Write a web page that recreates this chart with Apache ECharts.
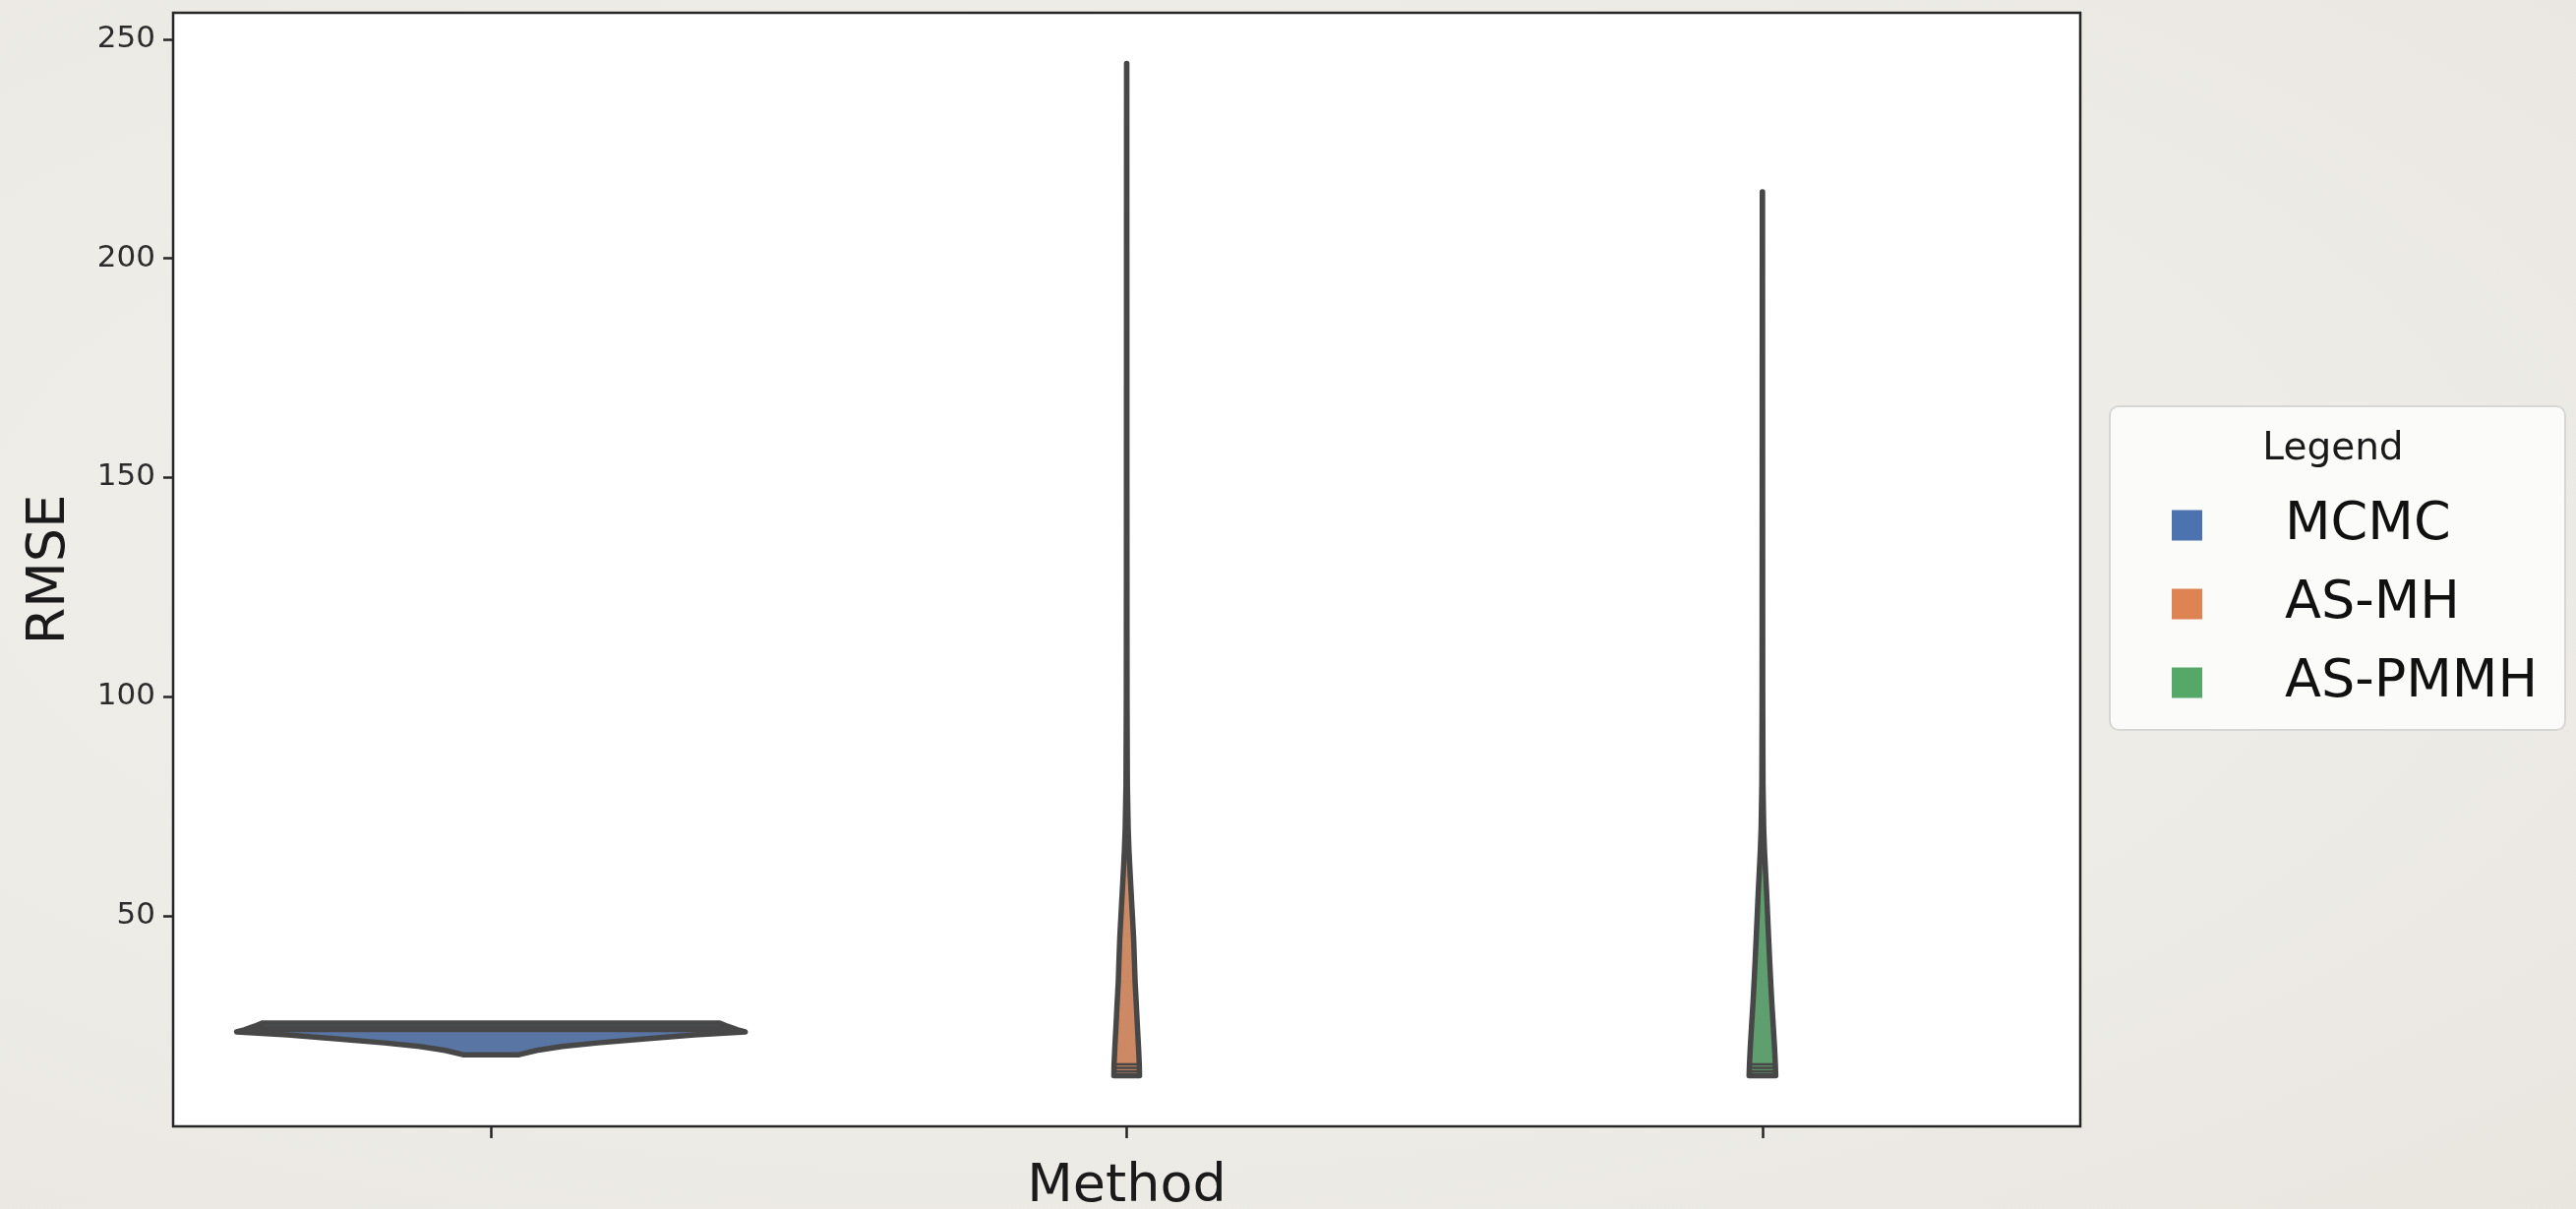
<!DOCTYPE html>
<html>
<head>
<meta charset="utf-8">
<title>RMSE by method</title>
<script src="https://cdn.jsdelivr.net/npm/echarts@6/dist/echarts.min.js"></script>
<style>
  html, body { margin: 0; padding: 0; }
  body {
    width: 2619px; height: 1229px; overflow: hidden;
    background: radial-gradient(ellipse at 40% 45%, #f1efeb 0%, #eeece7 55%, #e9e6e0 100%);
  }
  #chart { width: 2619px; height: 1229px; }
</style>
</head>
<body>
<div id="chart"></div>
<script>
// Methods on the x axis
const methods = ['MCMC', 'AS-MH', 'AS-PMMH'];

// Kernel density profiles: RMSE levels and relative density (1 = widest violin)
const mcmcLevels  = [18.3, 19.3, 20.2, 21.0, 22.0, 22.8, 23.5, 24.0, 24.8, 25.5];
const mcmcDensity = [0.11, 0.18, 0.28, 0.42, 0.62, 0.80, 1.00, 0.97, 0.93, 0.90];
const mcmcSticks  = [23.7, 24.2, 24.7];

const asmhLevels  = [13.5, 16, 20, 25, 30, 35, 40, 45, 50, 55, 60, 65, 70, 80, 100, 150, 200, 244.5];
const asmhDensity = [0.0504, 0.0496, 0.0465, 0.0419, 0.0376, 0.0330, 0.0302, 0.0271, 0.0225, 0.0178,
                     0.0132, 0.0089, 0.0058, 0.0027, 0.0014, 0.0008, 0.0006, 0.0004];
const asmhSticks  = [14.5, 15.3, 16.1];

const aspmmhLevels  = [13.5, 16, 20, 25, 30, 35, 40, 45, 50, 55, 60, 65, 70, 80, 100, 150, 215.2];
const aspmmhDensity = [0.0523, 0.0510, 0.0477, 0.0426, 0.0372, 0.0326, 0.0283, 0.0244, 0.0205, 0.0167,
                       0.0124, 0.0081, 0.0050, 0.0023, 0.0012, 0.0007, 0.0004];
const aspmmhSticks  = [14.5, 15.3, 16.1];

// Y tick values
const yTicks = [50, 100, 150, 200, 250];

// Palette: legend swatches and (desaturated) violin bodies
const swatchColors = ['#4c72b0', '#dd8452', '#55a868'];
const bodyColors   = ['#5875a3', '#cc8963', '#5f9e6e'];
const edgeColor = '#474747';
const FONT = 'DejaVu Sans';

// Axis limits with a 5% margin around the data range
const allLevels = mcmcLevels.concat(asmhLevels, aspmmhLevels);
const lo = Math.min.apply(null, allLevels);
const hi = Math.max.apply(null, allLevels);
const pad = 0.05 * (hi - lo);

function densityAt(levels, density, v) {
  for (let i = 0; i < levels.length - 1; i++) {
    if (v >= levels[i] && v <= levels[i + 1]) {
      const t = (v - levels[i]) / (levels[i + 1] - levels[i]);
      return density[i] + t * (density[i + 1] - density[i]);
    }
  }
  return 0;
}

function violinSeries(idx, levels, density, sticks) {
  return {
    type: 'custom',
    name: methods[idx],
    coordinateSystem: 'cartesian2d',
    itemStyle: { color: swatchColors[idx], borderWidth: 0 },
    data: [[idx, levels[0]]],
    encode: { x: 0, y: 1 },
    renderItem: function (params, api) {
      const band = api.size([1, 0])[0];
      const halfW = d => d * 0.4 * band;
      const right = levels.map((v, i) => {
        const p = api.coord([idx, v]);
        return [p[0] + halfW(density[i]), p[1]];
      });
      const left = levels.map((v, i) => {
        const p = api.coord([idx, v]);
        return [p[0] - halfW(density[i]), p[1]];
      }).reverse();
      const children = [{
        type: 'polygon',
        shape: { points: right.concat(left) },
        style: { fill: bodyColors[idx], stroke: edgeColor, lineWidth: 5.5, lineJoin: 'round' }
      }];
      // one stick per observation, spanning the violin width at that value
      sticks.forEach(s => {
        const p = api.coord([idx, s]);
        const w = halfW(densityAt(levels, density, s));
        children.push({
          type: 'line',
          shape: { x1: p[0] - w, y1: p[1], x2: p[0] + w, y2: p[1] },
          style: { stroke: edgeColor, lineWidth: 2.5 }
        });
      });
      return { type: 'group', children: children };
    }
  };
}

const chart = echarts.init(document.getElementById('chart'), null, { renderer: 'canvas' });

chart.setOption({
  backgroundColor: 'transparent',
  animation: false,
  textStyle: { fontFamily: FONT },
  grid: {
    left: 176, top: 13, right: 504, bottom: 84,
    containLabel: false, outerBoundsMode: 'none',
    show: true, backgroundColor: '#ffffff', borderColor: '#262626', borderWidth: 2.5
  },
  xAxis: {
    type: 'category',
    data: methods,
    boundaryGap: true,
    name: 'Method',
    nameLocation: 'middle',
    nameGap: 35,
    nameTextStyle: { fontFamily: FONT, fontSize: 54, color: '#1a1a1a' },
    axisLine: { show: false },
    axisTick: { show: true, alignWithLabel: true, length: 12, lineStyle: { color: '#262626', width: 2.5 } },
    axisLabel: { show: false },
    splitLine: { show: false }
  },
  yAxis: {
    type: 'value',
    min: lo - pad,
    max: hi + pad,
    name: 'RMSE',
    nameLocation: 'middle',
    nameGap: 98,
    nameTextStyle: { fontFamily: FONT, fontSize: 54, color: '#1a1a1a' },
    axisLine: { show: false },
    axisTick: { show: true, length: 10, customValues: yTicks, lineStyle: { color: '#262626', width: 2.5 } },
    axisLabel: { show: true, margin: 18, customValues: yTicks, fontFamily: FONT, fontSize: 31, color: '#2b2b2b' },
    splitLine: { show: false }
  },
  legend: {
    data: methods,
    orient: 'vertical',
    left: 2208,
    top: 507,
    padding: 0,
    itemGap: 26,
    itemWidth: 31,
    itemHeight: 31,
    icon: 'rect',
    selectedMode: false,
    z: 10,
    textStyle: { fontFamily: FONT, fontSize: 54, lineHeight: 54, color: '#111111', padding: [0, 0, 0, 79] }
  },
  graphic: [
    {
      type: 'rect',
      z: 1,
      shape: { x: 2145, y: 413, width: 463, height: 329, r: 9 },
      style: { fill: 'rgba(255,255,255,0.78)', stroke: '#d6d6d4', lineWidth: 2 }
    },
    {
      type: 'text',
      z: 2,
      x: 2372, y: 457,
      style: { text: 'Legend', fontFamily: FONT, fontSize: 39, fill: '#1a1a1a', align: 'center', verticalAlign: 'middle' }
    }
  ],
  series: [
    violinSeries(0, mcmcLevels, mcmcDensity, mcmcSticks),
    violinSeries(1, asmhLevels, asmhDensity, asmhSticks),
    violinSeries(2, aspmmhLevels, aspmmhDensity, aspmmhSticks)
  ]
});
</script>
</body>
</html>
